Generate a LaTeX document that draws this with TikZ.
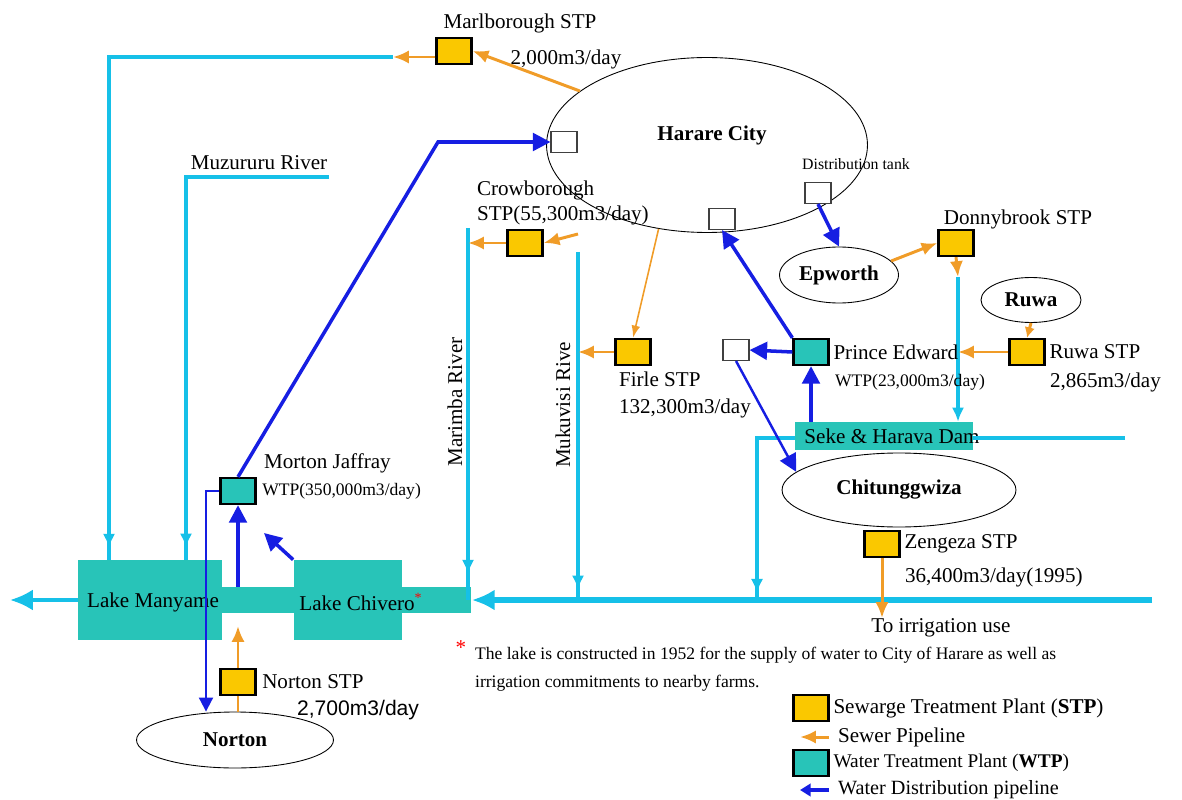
\documentclass[tikz,border=0pt]{standalone}
\usepackage{fontspec}
\setmainfont{Liberation Serif}
\setsansfont{Liberation Sans}
\usetikzlibrary{arrows.meta,positioning,shapes.geometric,decorations.markings}
\definecolor{hwcyan}{RGB}{22,192,232}
\definecolor{hwteal}{RGB}{40,196,184}
\definecolor{hwyellow}{RGB}{250,200,0}
\definecolor{hworange}{RGB}{240,156,40}
\definecolor{hwblue}{RGB}{22,30,226}
\tikzset{
  stp/.style={draw,line width=1.3pt,fill=hwyellow,minimum width=0.7cm,minimum height=0.52cm,inner sep=0pt},
  wtp/.style={stp,fill=hwteal},
  tank/.style={draw=black!75,line width=0.6pt,fill=white,minimum width=0.52cm,minimum height=0.42cm,inner sep=0pt},
  town/.style={draw,ellipse,line width=0.5pt,inner sep=0pt,font=\fontsize{12}{14}\selectfont\bfseries},
  lake/.style={fill=hwteal,inner sep=0pt},
  river/.style={color=hwcyan,line width=2.2pt},
  flowat/.style={postaction=decorate,decoration={markings,mark=at position #1 with {\arrow{Latex[length=8pt,width=7pt]}}}},
  sewer/.style={color=hworange,line width=1.7pt,-{Latex[length=9pt,width=7.5pt]}},
  supply/.style={color=hwblue,line width=2pt,-{Triangle[length=10pt,width=10pt]}},
  smalltxt/.style={font=\fontsize{10}{12}\selectfont}
}
\begin{document}
\begin{tikzpicture}[x=0.02cm,y=-0.02cm,font=\fontsize{12}{14}\selectfont,every node/.append style={inner sep=1pt}]
  \useasboundingbox (0,0) rectangle (1182,800);
  % lakes and dam
  \node[lake,minimum width=7.86cm,minimum height=0.52cm] (chan) at (275,600) {};
  \node[lake,minimum width=2.88cm,minimum height=1.6cm] (manyame) at (150,600) {};
  \node[lake,minimum width=2.18cm,minimum height=1.6cm] (chivero) at (348,600) {};
  \node (manyametxt) at (153,602) {Lake Manyame};
  \node (chiverotxt) at (361,602) {Lake Chivero\textsuperscript{\textcolor{red}{*}}};
  \node[lake,minimum width=3.56cm,minimum height=0.56cm] (seke) at (884,436) {};
  \node (seketxt) at (892,436) {Seke \& Harava Dam};

  % rivers
  \coordinate (marlout) at (393,57);
  \coordinate (tlbend) at (109,57);
  \coordinate (muzsrc) at (329,177);
  \coordinate (muzbend) at (186,177);
  \coordinate (marsrc) at (468,228);
  \coordinate (muksrc) at (578,252);
  \coordinate (mainsrc) at (1152,600);
  \coordinate (outlet) at (10,600);
  \coordinate (sekesrc) at (1125,438);
  \coordinate (sekebend) at (757,438);
  \coordinate (donnyout) at (958,277);
  \draw[river,line width=3.8pt,-{Latex[length=13pt,width=12pt]}] (mainsrc) -- (chan.east);
  \draw[river,-{Latex[length=13pt,width=12pt]}] (manyame.west) -- (outlet);
  \draw[river,flowat=0.985] (marlout) -- (tlbend) -- (tlbend |- manyame.north);
  \draw[river,flowat=0.977] (muzsrc) -- (muzbend) -- (muzbend |- manyame.north);
  \draw[river,flowat=0.93] (marsrc) -- (marsrc |- mainsrc);
  \draw[river,flowat=0.97] (muksrc) -- (muksrc |- mainsrc);
  \draw[river] (sekesrc) -- (seke.east |- sekesrc);
  \draw[river,flowat=0.965] (seke.west |- sekebend) -- (sekebend) -- (sekebend |- mainsrc);
  \draw[river,-{Latex[length=8pt,width=7pt]}] (donnyout) -- (donnyout |- seke.north);

  % plants
  \node[stp] (marl) at (454,51) {};
  \node[stp] (crow) at (525,243) {};
  \node[stp] (firle) at (633,352) {};
  \node[stp] (donny) at (956,243) {};
  \node[stp] (ruwastp) at (1027,352) {};
  \node[stp] (zeng) at (882,544) {};
  \node[stp] (nortonstp) at (238,682) {};
  \node[wtp] (morton) at (238,491) {};
  \node[wtp] (prince) at (811,352) {};

  % towns and tanks
  \node[town,minimum width=6.42cm,minimum height=3.5cm] (harare) at (707,145) {};
  \node[font=\fontsize{12}{14}\selectfont\bfseries] (hararetxt) at (712,135) {Harare City};
  \node[town,minimum width=2.38cm,minimum height=1.12cm] (epworth) at (839,275) {Epworth};
  \node[town,minimum width=2cm,minimum height=0.9cm] (ruwa) at (1031,300) {Ruwa};
  \node[town,minimum width=4.68cm,minimum height=1.48cm] (chit) at (899,490) {Chitunggwiza};
  \node[town,minimum width=3.94cm,minimum height=1.12cm] (norton) at (235,740) {Norton};
  \node[tank] (tankw) at (564,142) {};
  \node[tank] (tanks) at (722,219) {};
  \node[tank] (tanke) at (818,193) {};
  \node[tank] (tankpe) at (736,350) {};
  \node[font=\fontsize{9}{11}\selectfont] (tanktxt) at (856,164) {Distribution tank};

  % sewer pipelines
  \coordinate (crowin) at (578,234);
  \coordinate (irrig) at (884,618);
  \coordinate (nortonout) at (240,626);
  \draw[sewer] (harare.157) -- (marl.east);
  \draw[sewer] (marl.west |- marlout) -- (marlout);
  \draw[sewer] (crowin) -- (crow.east);
  \draw[sewer] (crow.west) -- (crow.west -| marsrc);
  \draw[sewer,line width=0.9pt,-{Latex[length=7pt,width=5pt]}] (harare.240) -- (firle.north);
  \draw[sewer] (firle.west) -- (firle.west -| muksrc);
  \draw[sewer] (epworth.15) -- (donny.west);
  \draw[sewer] (donny.south) -- (donnyout);
  \draw[sewer,-{Latex[length=6pt,width=6pt]}] (ruwa.south) -- (ruwastp.north);
  \draw[sewer] (ruwastp.west) -- (ruwastp.west -| donnyout);
  \draw[sewer] (zeng.south) -- (zeng.south |- irrig);
  \draw[sewer] (nortonstp.north) -- (nortonstp.north |- nortonout);
  \draw[sewer,-] (nortonstp.south) -- (nortonstp.south |- norton.north);

  % water distribution
  \coordinate (mjbend) at (438,142);
  \coordinate (mjin) at (264,533);
  \coordinate (mjleft) at (206,491);
  \draw[supply] (morton.north) -- (mjbend) -- (tankw.west);
  \draw[supply] (morton.south |- chan.north) -- (morton.south);
  \draw[supply] (chivero.north west) -- (mjin);
  \draw[supply,line width=1.1pt,-{Triangle[length=8pt,width=8pt]}] (morton.west) -- (mjleft) -- (mjleft |- norton.north);
  \draw[supply] (tanke.south) -- (epworth.north);
  \draw[supply] (prince.north west) -- (tanks.south);
  \draw[supply] (prince.west) -- (tankpe.east);
  \draw[supply] (prince.south |- seke.north) -- (prince.south);
  \draw[supply,line width=1.4pt] (tankpe.south) -- (chit.170);

  % labels
  \node (marltxt) at (520,23) {Marlborough STP};
  \node (marlcap) at (566,59) {2,000m3/day};
  \node (muztxt) at (259,163) {Muzururu River};
  \node[anchor=west,align=left] (crowtxt) at (475,203) {Crowborough\\STP(55,300m3/day)};
  \node[rotate=90] (martxt) at (455,402) {Marimba River};
  \node[rotate=90] (muktxt) at (563,405) {Mukuvisi Rive};
  \node[anchor=west,align=left,font=\fontsize{12}{15}\selectfont] (firletxt) at (617,395) {Firle STP\\132,300m3/day};
  \node[anchor=west] (mortontxt) at (262,463) {Morton Jaffray};
  \node[right=2pt of morton,smalltxt] (mortoncap) {WTP(350,000m3/day)};
  \node[right=1pt of prince] (princetxt) {Prince Edward};
  \node[anchor=west,smalltxt] (princecap) at (833,382) {WTP(23,000m3/day)};
  \node[right=1pt of ruwastp] (ruwatxt) {Ruwa STP};
  \node[anchor=west] (ruwacap) at (1048,382) {2,865m3/day};
  \node (donnytxt) at (1018,219) {Donnybrook STP};
  \node[right=1pt of zeng] (zengtxt) {Zengeza STP};
  \node[anchor=west] (zengcap) at (903,577) {36,400m3/day(1995)};
  \node (irrigtxt) at (941,628) {To irrigation use};
  \node[right=2pt of nortonstp] (nortonstptxt) {Norton STP};
  \node[anchor=west,font=\sffamily\fontsize{12}{14}\selectfont] (nortoncap) at (295,710) {2,700m3/day};
  \node[text=red] (notestar) at (461,648) {*};
  \node[anchor=west,align=left,font=\fontsize{10}{16}\selectfont] (notetxt) at (473,669) {The lake is constructed in 1952 for the supply of water to City of Harare as well as\\irrigation commitments to nearby farms.};

  % legend
  \coordinate (legsewa) at (829,737);
  \coordinate (legsewb) at (800,737);
  \coordinate (legsupa) at (829,790);
  \coordinate (legsupb) at (800,790);
  \node[stp] (legstp) at (811,708) {};
  \node[right=1pt of legstp] (legstptxt) {Sewarge Treatment Plant (\textbf{STP})};
  \draw[sewer] (legsewa) -- (legsewb);
  \node[right=4pt of legsewa] (legsewtxt) {Sewer Pipeline};
  \node[wtp] (legwtp) at (811,763) {};
  \node[right=1pt of legwtp,font=\fontsize{11}{13}\selectfont] (legwtptxt) {Water Treatment Plant (\textbf{WTP})};
  \draw[supply,-{Triangle[length=6pt,width=7pt]}] (legsupa) -- (legsupb);
  \node[right=4pt of legsupa,font=\fontsize{11.5}{13}\selectfont] (legsuptxt) {Water Distribution pipeline};
\end{tikzpicture}
\end{document}
